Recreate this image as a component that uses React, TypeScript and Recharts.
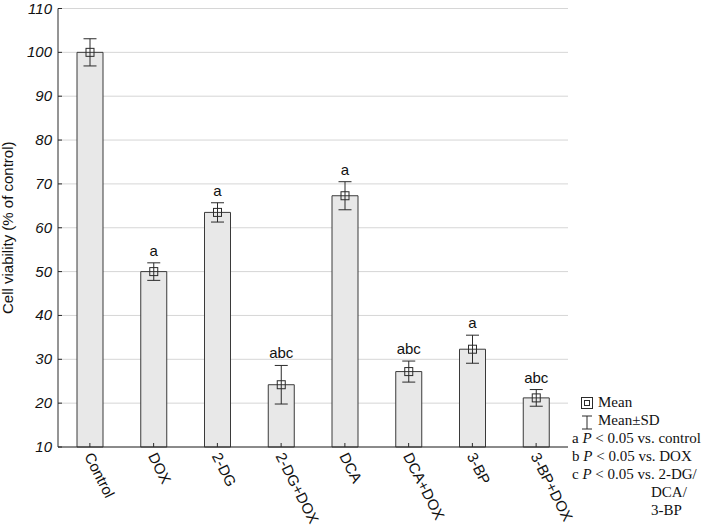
import { BarChart, Bar, XAxis, YAxis, CartesianGrid, LabelList } from 'recharts';

const categories = ['Control', 'DOX', '2-DG', '2-DG+DOX', 'DCA', 'DCA+DOX', '3-BP', '3-BP+DOX'];
const means = [100, 50, 63.5, 24.2, 67.3, 27.2, 32.3, 21.2];
const sds = [3.1, 2.0, 2.2, 4.4, 3.2, 2.4, 3.2, 1.9];
const letters = ['', 'a', 'a', 'abc', 'a', 'abc', 'a', 'abc'];
const yTicks = [10, 20, 30, 40, 50, 60, 70, 80, 90, 100, 110];
const Y_MIN = 10;

const data = categories.map((name, i) => ({
  name,
  mean: means[i],
  sd: sds[i],
  letter: letters[i],
}));

const INK = '#2b2b2b';
const SANS = 'Liberation Sans, Arial, sans-serif';
const SERIF = 'Liberation Serif, Times New Roman, serif';

const BottomTick = ({ x, y, payload }: any) => (
  <g>
    <line x1={x} y1={y} x2={x} y2={y - 4} stroke={INK} />
    <text
      transform={`translate(${x - 6},${y + 9}) rotate(63)`}
      fontFamily={SANS}
      fontSize={15}
      fill="#111"
    >
      {payload.value}
    </text>
  </g>
);

const TopTick = ({ x, y }: any) => <line x1={x} y1={y} x2={x} y2={y + 4} stroke={INK} />;

const LeftTick = ({ x, y, payload }: any) => (
  <g>
    <line x1={x} y1={y} x2={x + 4} y2={y} stroke={INK} />
    <text x={x - 6} y={y + 5} textAnchor="end" fontFamily={SANS} fontStyle="italic" fontSize={15} fill="#111">
      {payload.value}
    </text>
  </g>
);

const RightTick = ({ x, y }: any) => <line x1={x} y1={y} x2={x - 4} y2={y} stroke={INK} />;

// mean marker + mean±SD whiskers, scaled from the bar's own geometry
const MeanMark = (props: any) => {
  const { x, y, width, height, index } = props;
  const cx = x + width / 2;
  const pxPerUnit = height / (means[index] - Y_MIN);
  const d = sds[index] * pxPerUnit;
  return (
    <g stroke={INK} strokeWidth={1} fill="none">
      <line x1={cx} y1={y - d} x2={cx} y2={y + d} />
      <line x1={cx - 6.5} y1={y - d} x2={cx + 6.5} y2={y - d} />
      <line x1={cx - 6.5} y1={y + d} x2={cx + 6.5} y2={y + d} />
      <rect x={cx - 4} y={y - 4} width={8} height={8} />
    </g>
  );
};

// significance letters above the upper whisker
const LetterMark = (props: any) => {
  const { x, y, width, height, value, index } = props;
  if (!value) return null;
  const pxPerUnit = height / (means[index] - Y_MIN);
  const top = y - sds[index] * pxPerUnit;
  return (
    <text x={x + width / 2} y={top - 7} textAnchor="middle" fontFamily={SANS} fontSize={15} fill="#111">
      {value}
    </text>
  );
};

const YLabel = (props: any) => {
  const vb = props.viewBox || { x: 0, y: 0, height: 0 };
  const cy = vb.y + vb.height / 2;
  return (
    <text
      transform={`translate(13,${cy}) rotate(-90)`}
      textAnchor="middle"
      fontFamily={SANS}
      fontSize={15}
      fill="#111"
    >
      Cell viability (% of control)
    </text>
  );
};

export default function App() {
  const legendLine = { position: 'absolute' as const, whiteSpace: 'nowrap' as const };
  return (
    <div style={{ position: 'absolute', left: 0, top: 0, width: 709, height: 526, background: '#fff' }}>
      <BarChart
        width={709}
        height={526}
        data={data}
        margin={{ top: 8.5, right: 141, bottom: 0, left: 0 }}
        barCategoryGap={0}
      >
        <CartesianGrid vertical={false} stroke="#d6d6d6" yAxisId="left" />
        <XAxis
          dataKey="name"
          height={79}
          tickSize={0}
          tickMargin={0}
          tickLine={false}
          tick={<BottomTick />}
          interval={0}
          axisLine={{ stroke: INK }}
        />
        <XAxis
          xAxisId="top"
          dataKey="name"
          orientation="top"
          height={0}
          tickSize={0}
          tickMargin={0}
          tickLine={false}
          tick={<TopTick />}
          interval={0}
          axisLine={{ stroke: INK }}
        />
        <YAxis
          yAxisId="left"
          domain={[Y_MIN, 110]}
          ticks={yTicks}
          width={58}
          tickSize={0}
          tickMargin={0}
          tickLine={false}
          tick={<LeftTick />}
          interval={0}
          axisLine={{ stroke: INK }}
          label={<YLabel />}
        />
        <YAxis
          yAxisId="right"
          orientation="right"
          domain={[Y_MIN, 110]}
          ticks={yTicks}
          width={0}
          tickSize={0}
          tickMargin={0}
          tickLine={false}
          tick={<RightTick />}
          interval={0}
          axisLine={{ stroke: INK }}
        />
        <Bar
          yAxisId="left"
          dataKey="mean"
          barSize={26}
          fill="#e8e8e8"
          stroke="#3a3a3a"
          strokeWidth={1}
          isAnimationActive={false}
        >
          <LabelList dataKey="mean" content={<MeanMark />} />
          <LabelList dataKey="letter" content={<LetterMark />} />
        </Bar>
      </BarChart>

      <div style={{ position: 'absolute', left: 0, top: 0, fontFamily: SERIF, fontSize: 15, color: '#111' }}>
        <svg style={{ position: 'absolute', left: 580, top: 396 }} width={14} height={36}>
          <rect x={1.5} y={1.5} width={11} height={11} fill="none" stroke={INK} />
          <rect x={4.5} y={4.5} width={5} height={5} fill="none" stroke={INK} />
          <line x1={2} y1={20} x2={12} y2={20} stroke={INK} />
          <line x1={7} y1={20} x2={7} y2={33} stroke={INK} />
          <line x1={2} y1={33} x2={12} y2={33} stroke={INK} />
        </svg>
        <div style={{ ...legendLine, left: 598, top: 394 }}>Mean</div>
        <div style={{ ...legendLine, left: 598, top: 412 }}>Mean±SD</div>
        <div style={{ ...legendLine, left: 572, top: 430 }}>a <i>P</i> &lt; 0.05 vs. control</div>
        <div style={{ ...legendLine, left: 572, top: 448 }}>b <i>P</i> &lt; 0.05 vs. DOX</div>
        <div style={{ ...legendLine, left: 572, top: 466 }}>c <i>P</i> &lt; 0.05 vs. 2-DG/</div>
        <div style={{ ...legendLine, left: 651, top: 484 }}>DCA/</div>
        <div style={{ ...legendLine, left: 651, top: 502 }}>3-BP</div>
      </div>
    </div>
  );
}
